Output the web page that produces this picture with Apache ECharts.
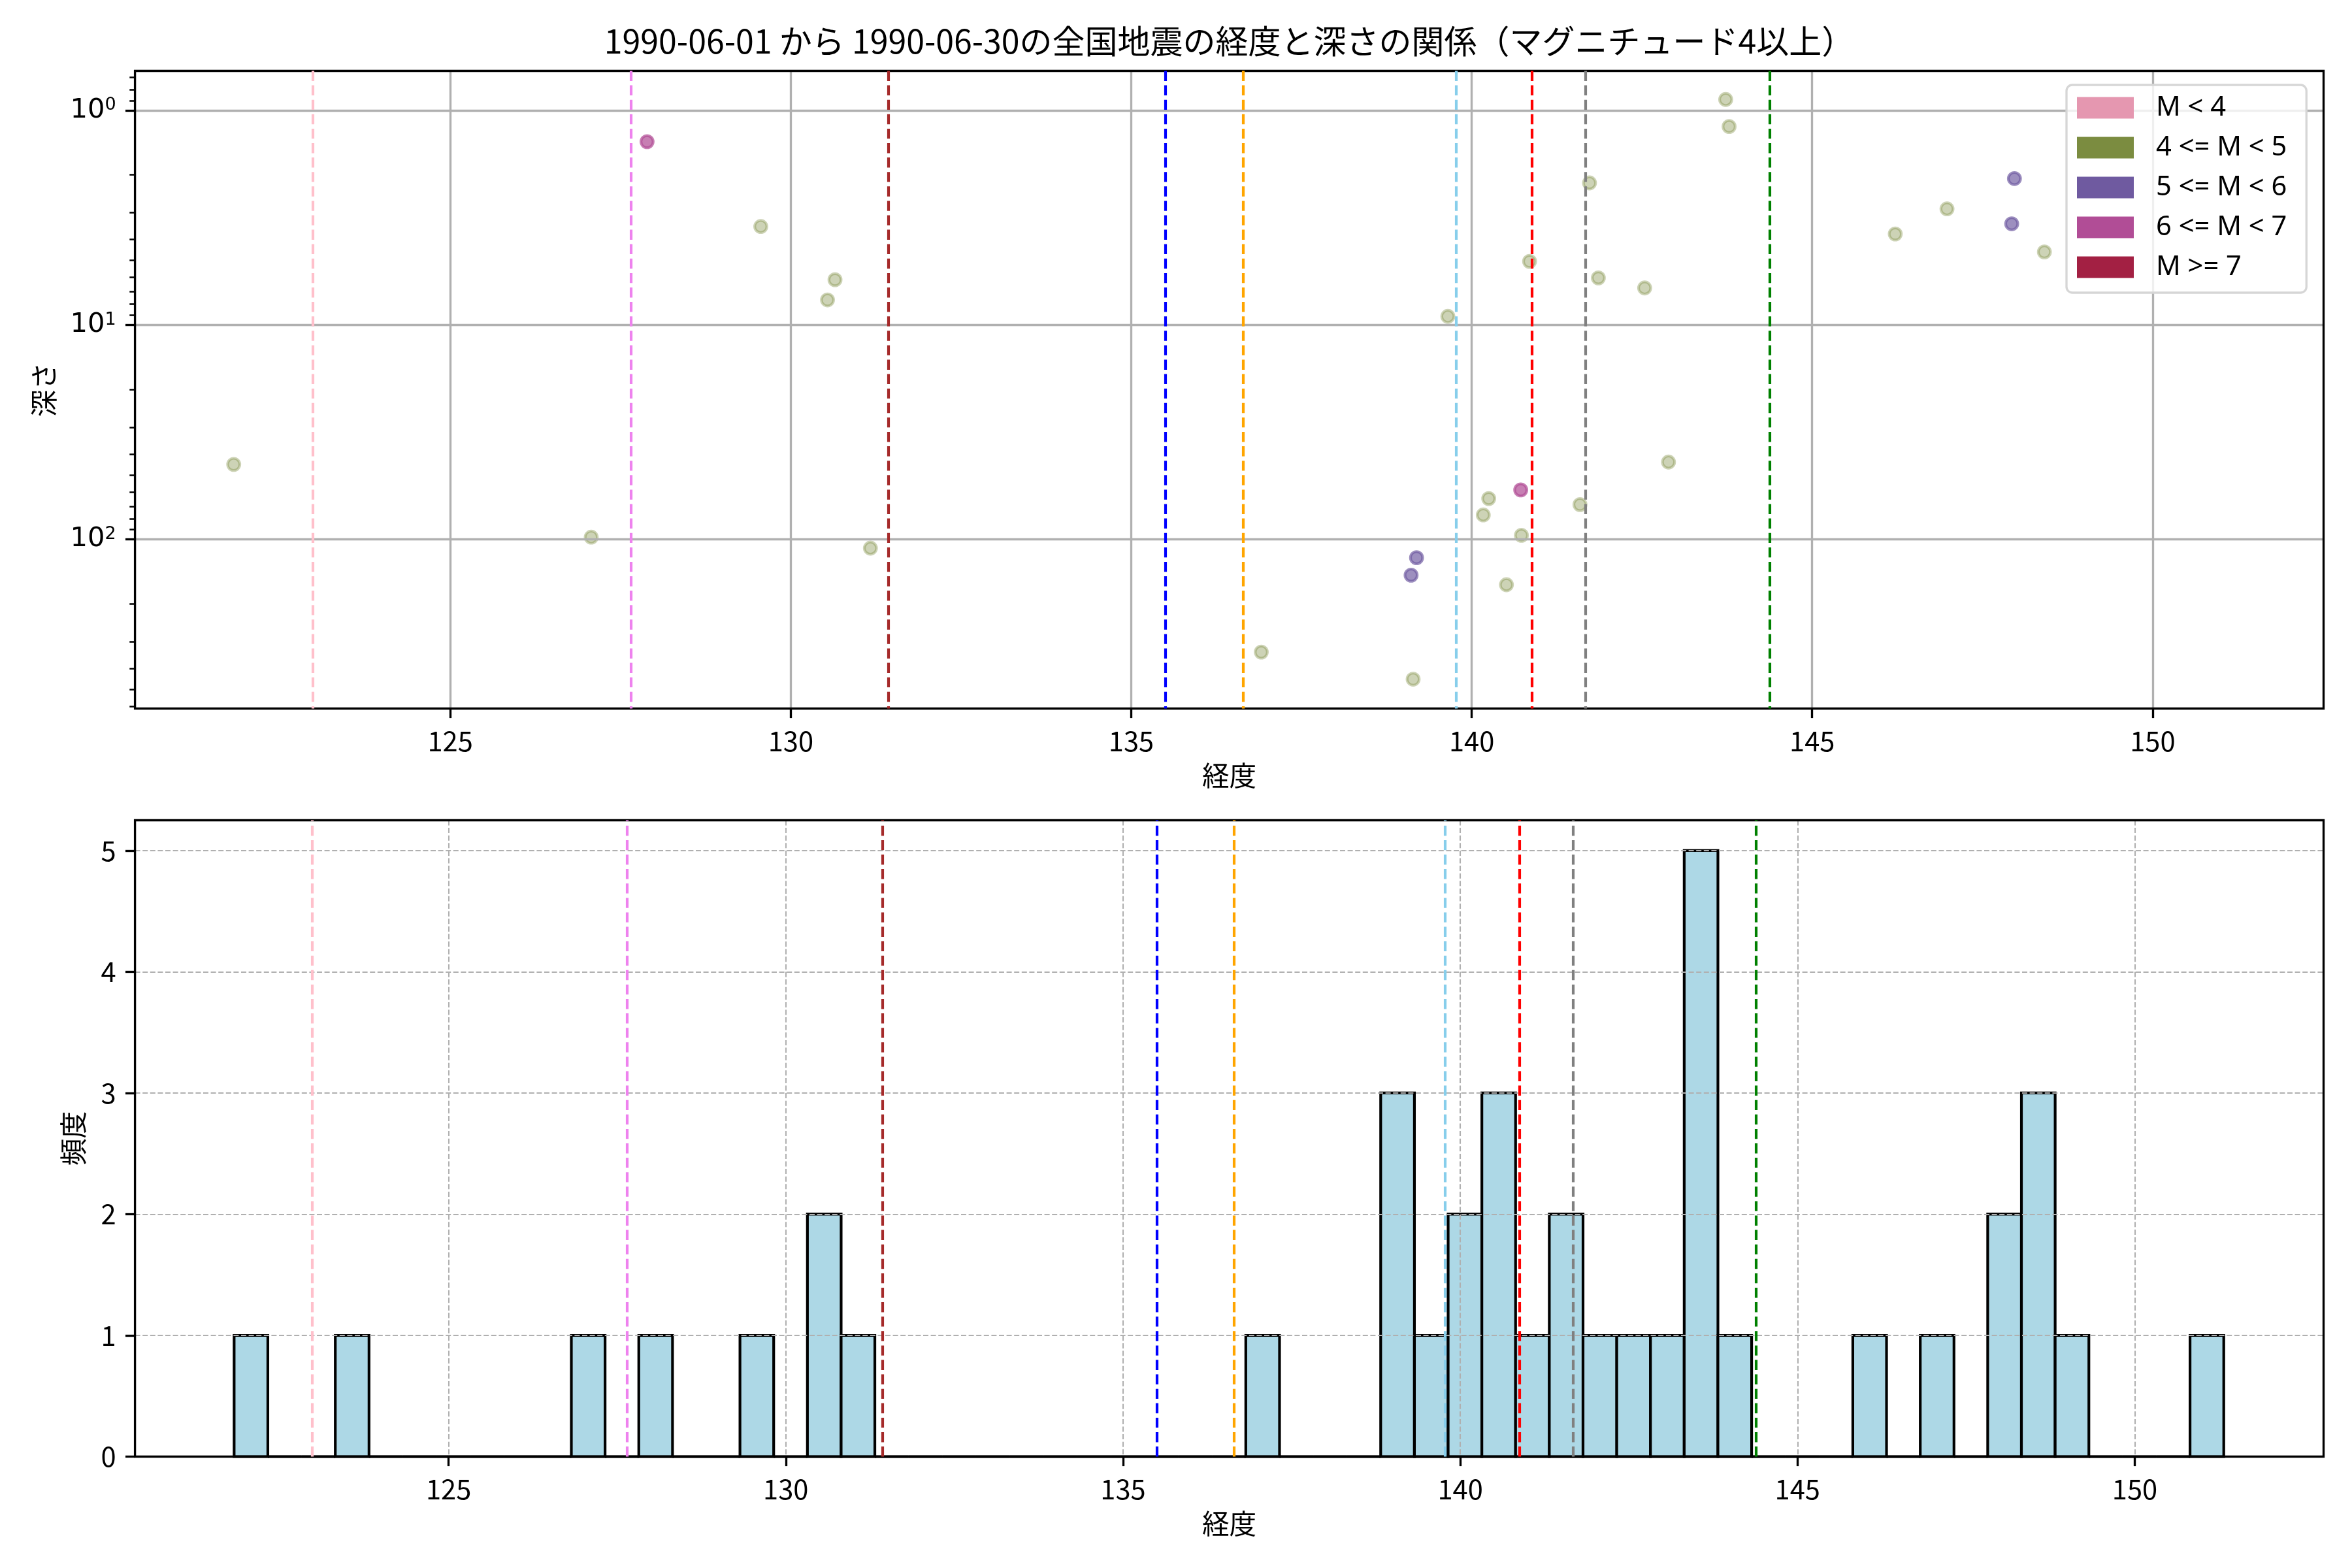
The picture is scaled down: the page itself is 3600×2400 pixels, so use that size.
<!DOCTYPE html>
<html>
<head>
<meta charset="utf-8">
<script src="https://cdn.jsdelivr.net/npm/echarts@6/dist/echarts.min.js"></script>
<style>
html,body{margin:0;padding:0;background:#ffffff;}
#chart{width:3600px;height:2400px;}
</style>
</head>
<body>
<div id="chart"></div>
<script>
// ---------------- DATA ----------------
const titleText = '1990-06-01 から 1990-06-30の全国地震の経度と深さの関係（マグニチュード4以上）';
const magnitudeClasses = ['M < 4', '4 <= M < 5', '5 <= M < 6', '6 <= M < 7', 'M >= 7'];

// scatter: longitude / depth per magnitude class
const lonMlt4 = [];
const depthMlt4 = [];
const lonM4to5 = [121.82, 129.56, 130.65, 130.54, 127.07, 131.17, 143.73, 143.78, 141.73, 146.98, 146.22, 148.41,
                  140.85, 141.86, 142.54, 139.65, 142.89, 140.25, 140.17, 141.59, 140.73, 140.51, 136.91, 139.14];
const depthM4to5 = [44.7, 3.48, 6.16, 7.65, 97.6, 109.8, 0.89, 1.19, 2.18, 2.88, 3.77, 4.57,
                    5.06, 6.04, 6.73, 9.13, 43.6, 64.5, 76.9, 68.8, 95.7, 162.6, 335, 448];
const lonM5to6 = [147.97, 147.93, 139.19, 139.11];
const depthM5to6 = [2.08, 3.38, 121.7, 146.7];
const lonM6to7 = [127.89, 140.72];
const depthM6to7 = [1.40, 58.8];
const lonMge7 = [];
const depthMge7 = [];

// reference longitudes (vertical dashed lines)
const refLongitudes = [122.98, 127.65, 131.43, 135.50, 136.64, 139.77, 140.88, 141.67, 144.38];

// histogram of longitudes
const histStart = 121.82;
const histBinWidth = 0.5;
const histCounts = [1,0,0,1,0,0,0,0,0,0,
                    1,0,1,0,0,1,0,2,1,0,
                    0,0,0,0,0,0,0,0,0,0,
                    1,0,0,0,3,1,2,3,1,2,
                    1,1,1,5,1,0,0,0,1,0,
                    1,0,2,3,1,0,0,0,1];

// ticks
const lonTicks = [125, 130, 135, 140, 145, 150];
const depthTicks = [1, 10, 100];
const depthMinorTicks = [0.7, 0.8, 0.9, 2, 3, 4, 5, 6, 7, 8, 9, 20, 30, 40, 50, 60, 70, 80, 90, 200, 300, 400, 500, 600];
const freqTicks = [0, 1, 2, 3, 4, 5];

// ---------------- STYLE ----------------
const JP = '"Noto Sans CJK JP", "Noto Sans", sans-serif';
const LEG = '"Noto Sans", "Noto Sans CJK JP", sans-serif';
const FS = 41.67;
const classColors = ['#e597b0', '#7b8c40', '#6f5aa0', '#b14d96', '#a32043'];
const classAlpha = [0.5, 0.38, 0.68, 0.72, 0.7];
const refColors = ['#ffc0cb', '#ee82ee', '#a52a2a', '#0000ff', '#ffa500', '#87ceeb', '#ff0000', '#808080', '#008000'];

const scatterLon = [lonMlt4, lonM4to5, lonM5to6, lonM6to7, lonMge7];
const scatterDepth = [depthMlt4, depthM4to5, depthM5to6, depthM6to7, depthMge7];

const chart = echarts.init(document.getElementById('chart'), null, {renderer: 'canvas', width: 3600, height: 2400});

// title placement: centered over the axes
const plotLeft = 206.6, plotRight = 3556.5;
const mctx = document.createElement('canvas').getContext('2d');
mctx.font = '50px "Noto Sans CJK JP"';
const titleW = mctx.measureText(titleText).width;

function tickText() {
  return {color: '#000', fontSize: FS, fontFamily: JP};
}

const scatterSeries = magnitudeClasses.map((name, k) => ({
  type: 'scatter',
  name: name,
  xAxisIndex: 0,
  yAxisIndex: 0,
  data: scatterLon[k].map((x, i) => [x, scatterDepth[k][i]]),
  symbol: 'circle',
  symbolSize: 18.6,
  itemStyle: {color: classColors[k], opacity: classAlpha[k], borderColor: classColors[k], borderWidth: 4.2},
  z: -1,
  silent: true
}));

function refLineSeries(xi, yi) {
  return {
    type: 'scatter',
    name: 'ref' + xi,
    xAxisIndex: xi,
    yAxisIndex: yi,
    data: [],
    z: 5,
    silent: true,
    markLine: {
      silent: true,
      symbol: ['none', 'none'],
      label: {show: false},
      animation: false,
      data: refLongitudes.map((v, i) => ({
        xAxis: v,
        lineStyle: {color: refColors[i], width: 4.17, type: [15.4, 6.7], opacity: 1}
      }))
    }
  };
}

const histData = histCounts.map((c, i) => [histStart + i * histBinWidth, histStart + (i + 1) * histBinWidth, c]);

const option = {
  animation: false,
  backgroundColor: '#ffffff',
  title: {
    text: titleText,
    left: (plotLeft + plotRight) / 2 - titleW / 2,
    top: 38,
    padding: 0,
    textStyle: {fontFamily: JP, fontSize: 50, fontWeight: 'normal', color: '#000'}
  },
  legend: {
    orient: 'vertical',
    left: 3163,
    top: 130,
    padding: [14, 30, 18, 16],
    itemWidth: 87,
    itemHeight: 33,
    itemGap: 19,
    icon: 'rect',
    backgroundColor: 'rgba(255,255,255,0.8)',
    borderColor: '#d6d6d6',
    borderWidth: 3.3,
    borderRadius: 9,
    selectedMode: false,
    itemStyle: {opacity: 1, borderWidth: 0},
    textStyle: {color: '#000', fontSize: FS, fontFamily: LEG, lineHeight: 42, padding: [0, 0, 0, 29]},
    data: magnitudeClasses.map((n, k) => ({name: n, itemStyle: {color: classColors[k], opacity: 1, borderWidth: 0}}))
  },
  grid: [
    {left: plotLeft, right: 3600 - plotRight, top: 108.5, bottom: 2400 - 1084.5, z: 1,
     show: true, borderColor: '#000', borderWidth: 3.33, backgroundColor: 'rgba(0,0,0,0)', outerBoundsMode: 'none'},
    {left: plotLeft, right: 3600 - plotRight, top: 1255.5, bottom: 2400 - 2229.5, z: 1,
     show: true, borderColor: '#000', borderWidth: 3.33, backgroundColor: 'rgba(0,0,0,0)', outerBoundsMode: 'none'}
  ],
  xAxis: [
    {
      gridIndex: 0, type: 'value', min: 120.37, max: 152.51,
      axisLine: {show: false, onZero: false},
      axisTick: {show: true, inside: false, length: 14.6, lineStyle: {color: '#000', width: 3.33}, customValues: lonTicks},
      axisLabel: {show: true, margin: 29, customValues: lonTicks, ...tickText()},
      splitLine: {show: true, lineStyle: {color: '#b0b0b0', width: 3.33, type: 'solid'}},
      name: '経度', nameLocation: 'middle', nameGap: 82,
      nameTextStyle: {color: '#000', fontSize: FS, fontFamily: JP}
    },
    {
      gridIndex: 1, type: 'value', min: 120.35, max: 152.80,
      axisLine: {show: false, onZero: false},
      axisTick: {show: true, inside: false, length: 14.6, lineStyle: {color: '#000', width: 3.33}, customValues: lonTicks},
      axisLabel: {show: true, margin: 29, customValues: lonTicks, ...tickText()},
      splitLine: {show: true, lineStyle: {color: '#b0b0b0', width: 2.08, type: [8, 3.6]}},
      name: '経度', nameLocation: 'middle', nameGap: 82,
      nameTextStyle: {color: '#000', fontSize: FS, fontFamily: JP}
    }
  ],
  yAxis: [
    {
      gridIndex: 0, type: 'log', logBase: 10, min: 0.655, max: 614, inverse: true,
      axisLine: {show: false, onZero: false},
      axisTick: {show: true, inside: false, length: 14.6, lineStyle: {color: '#000', width: 3.33}, customValues: depthTicks},
      axisLabel: {
        show: true, margin: 29, customValues: depthTicks,
        formatter: function (v) { return '{b|10}{s|' + Math.round(Math.log10(v)) + '}'; },
        rich: {
          b: {fontFamily: 'DejaVu Sans', fontSize: FS, color: '#000', lineHeight: 42},
          s: {fontFamily: 'DejaVu Sans', fontSize: 27, color: '#000', verticalAlign: 'top', lineHeight: 27}
        }
      },
      splitLine: {show: true, lineStyle: {color: '#b0b0b0', width: 3.33, type: 'solid'}},
      name: '深さ', nameLocation: 'middle', nameGap: 119, nameRotate: 90,
      nameTextStyle: {color: '#000', fontSize: FS, fontFamily: JP}
    },
    {
      gridIndex: 0, type: 'log', logBase: 10, min: 0.655, max: 614, inverse: true, position: 'left',
      axisLine: {show: false, onZero: false},
      axisTick: {show: true, inside: false, length: 8.3, lineStyle: {color: '#000', width: 2.5}, customValues: depthMinorTicks},
      axisLabel: {show: false},
      splitLine: {show: false}
    },
    {
      gridIndex: 1, type: 'value', min: 0, max: 5.25, interval: 1,
      axisLine: {show: false, onZero: false},
      axisTick: {show: true, inside: false, length: 14.6, lineStyle: {color: '#000', width: 3.33}, customValues: freqTicks},
      axisLabel: {show: true, margin: 29, customValues: freqTicks, ...tickText()},
      splitLine: {show: true, lineStyle: {color: '#b0b0b0', width: 2.08, type: [8, 3.6]}},
      name: '頻度', nameLocation: 'middle', nameGap: 74, nameRotate: 90,
      nameTextStyle: {color: '#000', fontSize: FS, fontFamily: JP}
    }
  ],
  series: [
    ...scatterSeries,
    refLineSeries(0, 0),
    {
      type: 'custom',
      name: 'hist',
      xAxisIndex: 1,
      yAxisIndex: 2,
      data: histData,
      encode: {x: [0, 1], y: 2},
      z: -1,
      silent: true,
      renderItem: function (params, api) {
        const p0 = api.coord([api.value(0), api.value(2)]);
        const p1 = api.coord([api.value(1), 0]);
        return {
          type: 'rect',
          shape: {x: p0[0], y: p0[1], width: p1[0] - p0[0], height: p1[1] - p0[1]},
          style: {fill: '#add8e6', stroke: '#000000', lineWidth: 4.17}
        };
      }
    },
    refLineSeries(1, 2)
  ]
};
chart.setOption(option);
</script>
</body>
</html>
